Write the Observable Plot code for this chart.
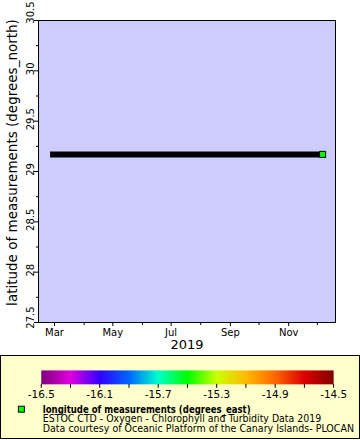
<!DOCTYPE html>
<html>
<head>
<meta charset="utf-8">
<script src="https://cdn.jsdelivr.net/npm/d3@7"></script>
<script src="https://cdn.jsdelivr.net/npm/@observablehq/plot@0.6"></script>
<style>
  html, body { margin: 0; padding: 0; background: #ffffff; }
  #wrap { position: relative; width: 360px; height: 440px; font-family: "DejaVu Sans", sans-serif; }
  #legend { position: absolute; left: 0; top: 355px; width: 358px; height: 82px; background: #ffffcc; border: 1px solid #000; }
  #legend svg { position: absolute; left: -1px; top: -1px; }
</style>
</head>
<body>
<div id="wrap">
  <div id="main"></div>
  <div id="legend"></div>
</div>
<script>
// ---- data ----
const times = ["2019-02-27","2019-03-13","2019-03-27","2019-04-10","2019-04-24","2019-05-08","2019-05-22",
  "2019-06-05","2019-06-19","2019-07-03","2019-07-17","2019-07-31","2019-08-14","2019-08-28",
  "2019-09-11","2019-09-25","2019-10-09","2019-10-23","2019-11-06","2019-11-20","2019-12-06"];
const lats = [29.17,29.17,29.17,29.17,29.17,29.17,29.17,29.17,29.17,29.17,29.17,29.17,29.17,29.17,
  29.17,29.17,29.17,29.17,29.17,29.17,29.17];
const lons = [-15.5,-15.5,-15.5,-15.5,-15.5,-15.5,-15.5,-15.5,-15.5,-15.5,-15.5,-15.5,-15.5,-15.5,
  -15.5,-15.5,-15.5,-15.5,-15.5,-15.5,-15.5];

const xTickDates = ["2019-03-01","2019-05-01","2019-07-01","2019-09-01","2019-11-01"];
const xTickLabels = ["Mar","May","Jul","Sep","Nov"];
const xMinorDates = ["2019-04-01","2019-06-01","2019-08-01","2019-10-01","2019-12-01"];
const yTicks = [27.5, 28, 28.5, 29, 29.5, 30, 30.5];
const yTickLabels = ["27.5","28","28.5","29","29.5","30","30.5"];
const yMinor = [27.75, 28.25, 28.75, 29.25, 29.75, 30.25];
const colorStops = [-16.5,-16.3,-16.1,-15.9,-15.7,-15.5,-15.3,-15.1,-14.9,-14.7,-14.5];
const colorRange = ["#800080","#e000e0","#3300ff","#0066ff","#00ffcc","#00ff00","#ccff00","#ffbb00","#ff6600","#dd0000","#800000"];
const legendTicks = [-16.5,-16.3,-16.1,-15.9,-15.7,-15.5,-15.3,-15.1,-14.9,-14.7,-14.5];
const legendTickLabels = ["-16.5","","-16.1","","-15.7","","-15.3","","-14.9","","-14.5"];
const yLabel = "latitude of measurements (degrees_north)";
const xLabel = "2019";
const legendTitle = "longitude of measurements (degrees_east)";
const legendLine2 = "ESTOC CTD - Oxygen - Chlorophyll and Turbidity Data 2019";
const legendLine3 = "Data courtesy of Oceanic Platform of the Canary Islands- PLOCAN";

const data = times.map((t, i) => ({time: new Date(t + "T12:00Z"), lat: lats[i], lon: lons[i]}));
const xMajor = xTickDates.map(d => new Date(d + "T00:00Z"));
const xMinor = xMinorDates.map(d => new Date(d + "T00:00Z"));
const colorScale = {type: "linear", domain: colorStops, range: colorRange, interpolate: "rgb"};
const yLab = d => yTickLabels[yTicks.indexOf(d)];
const yInner = yTicks.slice(1, -1);
const yTop = [yTicks[yTicks.length - 1]];
const yBottom = [yTicks[0]];
const yTextOpts = {y: d => d, text: yLab, frameAnchor: "left", textAnchor: "middle", lineAnchor: "middle",
  rotate: -90, dx: -8, fontSize: 10};

const main = Plot.plot({
  width: 360,
  height: 355,
  marginTop: 20,
  marginLeft: 38,
  marginRight: 25,
  marginBottom: 33,
  style: {fontFamily: "DejaVu Sans, sans-serif", fontSize: "10px", background: "#ffffff", color: "#000"},
  x: {type: "utc", domain: [new Date("2019-02-12T06:00Z"), new Date("2019-12-20T00:00Z")]},
  y: {domain: [27.5, 30.5]},
  color: colorScale,
  marks: [
    Plot.frame({fill: "#ccccff"}),
    Plot.line(data, {x: "time", y: "lat", stroke: "#000", strokeWidth: 6, strokeLinecap: "square"}),
    Plot.dot(data, Plot.selectLast({x: "time", y: "lat", fill: "lon", symbol: "square", r: 3.4, stroke: "#000", strokeWidth: 1})),
    Plot.frame({stroke: "#000", strokeWidth: 1}),
    Plot.axisX(xMajor, {tickSize: 4, tickPadding: 2, label: null, fontSize: 10,
      tickFormat: d => xTickLabels[xMajor.findIndex(t => +t === +d)]}),
    Plot.axisX(xMinor, {tickSize: 3, label: null, tickFormat: () => ""}),
    Plot.axisY(yTicks, {tickSize: 4, label: null, tickFormat: () => ""}),
    Plot.axisY(yMinor, {tickSize: 2, label: null, tickFormat: () => ""}),
    Plot.text(yInner, {...yTextOpts, dy: -2}),
    Plot.text(yTop, {...yTextOpts, dy: -8}),
    Plot.text(yBottom, {...yTextOpts, dy: -5}),
    Plot.text([xLabel], {text: d => d, frameAnchor: "bottom", dy: 26, fontSize: 13}),
    Plot.text([yLabel], {text: d => d, frameAnchor: "left", textAnchor: "middle", lineAnchor: "middle",
      rotate: -90, dx: -26, dy: -9, fontSize: 13.5})
  ]
});
document.getElementById("main").appendChild(main);

const bar = Plot.plot({
  width: 360,
  height: 84,
  marginLeft: 41,
  marginRight: 25,
  marginTop: 15,
  marginBottom: 55,
  style: {fontFamily: "DejaVu Sans, sans-serif", fontSize: "10px", background: "transparent", color: "#000"},
  x: {domain: [-16.5, -14.5]},
  y: {domain: [0, 1], axis: null},
  color: colorScale,
  marks: [
    Plot.raster({x1: -16.5, x2: -14.5, y1: 0, y2: 1, width: 294, height: 1, fill: (x, y) => x}),
    Plot.axisX(legendTicks, {tickSize: 4, tickPadding: 2, label: null, fontSize: 10.5,
      tickFormat: d => legendTickLabels[legendTicks.indexOf(d)]})
  ]
});
document.getElementById("legend").appendChild(bar);

const svg = d3.select(bar);
svg.append("rect").attr("x", 18.5).attr("y", 51.5).attr("width", 6).attr("height", 6)
  .attr("fill", "#00ff00").attr("stroke", "#000").attr("stroke-width", 1);
const g = svg.append("g").attr("text-anchor", "start").attr("font-family", "DejaVu Sans, sans-serif").attr("fill", "#000");
g.append("text").attr("x", 43).attr("y", 58).attr("font-size", 10).attr("font-weight", "bold")
  .attr("textLength", 209).attr("lengthAdjust", "spacingAndGlyphs").text(legendTitle);
g.append("text").attr("x", 43).attr("y", 67.5).attr("font-size", 10)
  .attr("textLength", 280).attr("lengthAdjust", "spacingAndGlyphs").text(legendLine2);
g.append("text").attr("x", 43).attr("y", 77.5).attr("font-size", 10)
  .attr("textLength", 313).attr("lengthAdjust", "spacingAndGlyphs").text(legendLine3);
</script>
</body>
</html>
